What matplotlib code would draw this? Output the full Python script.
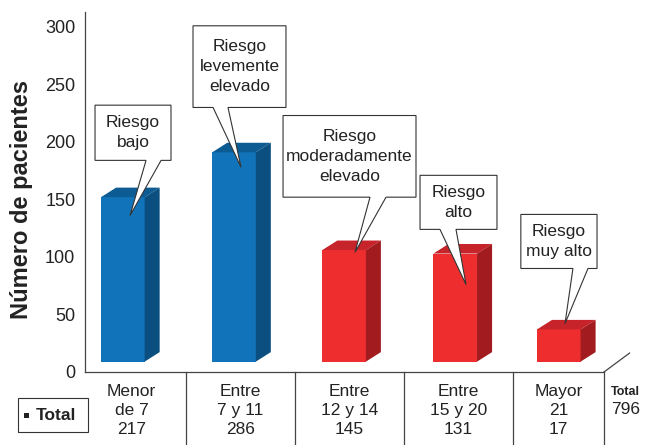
import matplotlib.pyplot as plt
from matplotlib.patches import Polygon, Rectangle

plt.rcParams['font.family'] = ['Liberation Sans Narrow', 'Liberation Sans', 'DejaVu Sans']

# datos
categorias = ['Menor\nde 7', 'Entre\n7 y 11', 'Entre\n12 y 14', 'Entre\n15 y 20', 'Mayor\n21']
totales = [217, 286, 145, 131, 17]
alturas = [152, 191, 106, 103, 37]
riesgos = ['Riesgo\nbajo', 'Riesgo\nlevemente\nelevado', 'Riesgo\nmoderadamente\nelevado',
           'Riesgo\nalto', 'Riesgo\nmuy alto']
total_general = 796

# aspecto
azul = ('#1173b9', '#0c5b93', '#0a4f80')   # frente, tapa, lado
rojo = ('#ee2e2e', '#c6232a', '#a11b1f')
colores = [azul, azul, rojo, rojo, rojo]
bar_x = [-0.08, 0.94, 1.95, 2.97, 3.92]
ancho = 0.40
base = 9
dx, dy = 0.138, 8.3  # profundidad 3D

# globos: (x izq, x der, y inf, y sup, base izq, base der, punta x, punta y)
globos = [
    (-0.335, 0.362, 184, 232, 0.133, 0.271, -0.014, 136),
    (0.564, 1.417, 230, 301, 0.748, 0.885, 1.005, 178),
    (1.390, 2.610, 152, 223, 2.188, 2.335, 2.050, 104),
    (2.647, 3.353, 124, 171, 2.830, 2.977, 3.069, 76),
    (3.572, 4.271, 90, 137, 4.050, 4.188, 3.977, 42),
]

fig = plt.figure(figsize=(6.49, 4.45), dpi=100)
ax = fig.add_axes([85 / 649, 73 / 445, 519 / 649, 360 / 445])
ax.set_xlim(-0.427, 4.335)
ax.set_ylim(0, 313)

for s in ['top', 'right']:
    ax.spines[s].set_visible(False)
for s in ['left', 'bottom']:
    ax.spines[s].set_color('#444444')
    ax.spines[s].set_linewidth(0.9)
ax.set_xticks([])
ax.set_yticks(range(0, 301, 50))
ax.tick_params(axis='y', length=0, pad=7, labelsize=13, labelcolor='#222222')
ax.set_ylabel('Número de pacientes', fontsize=17, fontweight='bold', color='#222222')
ax.yaxis.set_label_coords(-0.100, 0.48)

# barras 3D
for x, h, (c_front, c_top, c_side) in zip(bar_x, alturas, colores):
    x0, x1 = x - ancho / 2, x + ancho / 2
    ax.bar(x, h - base, width=ancho, bottom=base, color=c_front, zorder=3)
    ax.add_patch(Polygon([(x0, h), (x1, h), (x1 + dx, h + dy), (x0 + dx, h + dy)],
                         closed=True, facecolor=c_top, edgecolor='none', zorder=3))
    ax.add_patch(Polygon([(x1, base), (x1, h), (x1 + dx, h + dy), (x1 + dx, base + dy)],
                         closed=True, facecolor=c_side, edgecolor='none', zorder=3))

# globos
for txt, (x0, x1, y0, y1, bl, br, px, py) in zip(riesgos, globos):
    ax.add_patch(Polygon([(x0, y1), (x1, y1), (x1, y0), (br, y0), (px, py), (bl, y0), (x0, y0)],
                         closed=True, facecolor='white', edgecolor='#333333', lw=0.8,
                         zorder=5, clip_on=False))
    ax.text((x0 + x1) / 2, (y0 + y1) / 2, txt, ha='center', va='center', fontsize=12.5,
            color='#222222', linespacing=1.42, zorder=6)

# suelo
ax.plot([4.335, 4.57], [0, 16.5], color='#444444', lw=0.9, clip_on=False)

# tabla de datos
for xs in [0.5, 1.5, 2.5, 3.5, 4.335]:
    ax.plot([xs, xs], [0, -64], color='#444444', lw=0.9, clip_on=False)
col_x = [0.0, 1.0, 2.0, 3.0, 3.92]
for x, cat, tot in zip(col_x, categorias, totales):
    ax.text(x, -33.5, cat + '\n' + str(tot), ha='center', va='center', fontsize=12.5,
            color='#222222', linespacing=1.36, clip_on=False)
ax.text(4.53, -17.5, 'Total', ha='center', va='center', fontsize=9, fontweight='bold',
        color='#222222')
ax.text(4.53, -33, str(total_general), ha='center', va='center', fontsize=12.5,
        color='#222222')

# leyenda
fig.add_artist(Rectangle((18 / 649, 13 / 445), 70 / 649, 34 / 445, transform=fig.transFigure,
                         facecolor='white', edgecolor='#333333', lw=0.8))
fig.add_artist(Rectangle((23.5 / 649, 27 / 445), 5 / 649, 5 / 445, transform=fig.transFigure,
                         facecolor='#222222', edgecolor='none'))
fig.text(36 / 649, 30 / 445, 'Total', ha='left', va='center', fontsize=12.5, fontweight='bold',
         color='#222222')

fig.savefig('out.png', dpi=100)
